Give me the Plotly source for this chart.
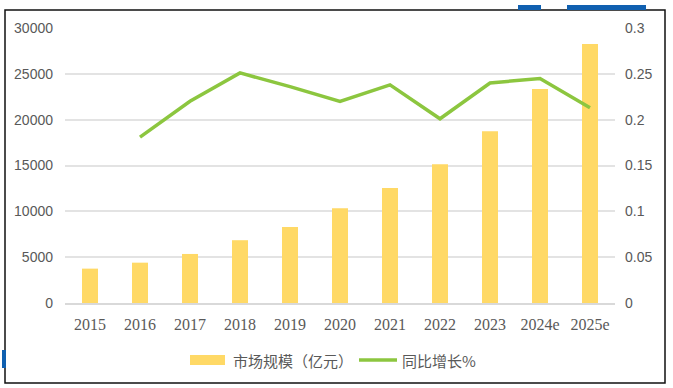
import plotly.graph_objects as go

years = ["2015", "2016", "2017", "2018", "2019", "2020", "2021", "2022", "2023", "2024e", "2025e"]
market_size = [3750, 4400, 5350, 6850, 8300, 10350, 12550, 15150, 18750, 23350, 28250]
growth = [None, 0.181, 0.220, 0.251, 0.236, 0.220, 0.238, 0.201, 0.240, 0.245, 0.213]
legend_labels = ["市场规模（亿元）", "同比增长%"]

W, H = 673, 388
L, R, T, B = 65, 615, 28, 303

def px(x):
    return (x - L) / (R - L)

def py(y):
    return (B - y) / (B - T)

BAR_COLOR = "#FFD966"
LINE_COLOR = "#8CC63F"
TXT = "#595959"
serif = "Liberation Serif, serif"
sans = "Liberation Sans, Arial, sans-serif"
cjk = "Noto Sans CJK SC, sans-serif"

fig = go.Figure()
fig.add_trace(go.Bar(x=years, y=market_size, name=legend_labels[0],
                     marker=dict(color=BAR_COLOR, line=dict(width=0)), yaxis="y",
                     showlegend=False))
fig.add_trace(go.Scatter(x=years, y=growth, name=legend_labels[1], mode="lines",
                         line=dict(color=LINE_COLOR, width=3.5), yaxis="y2",
                         showlegend=False))

shapes = [
    # outer border
    dict(type="rect", xref="paper", yref="paper", x0=px(5), x1=px(665), y0=py(383), y1=py(10),
         line=dict(color="#111", width=1.5), fillcolor="rgba(0,0,0,0)", layer="below"),
    # blue marks
    dict(type="rect", xref="paper", yref="paper", x0=px(518), x1=px(541), y0=py(10), y1=py(5),
         line=dict(width=0), fillcolor="#1060B0"),
    dict(type="rect", xref="paper", yref="paper", x0=px(567), x1=px(646), y0=py(10), y1=py(5),
         line=dict(width=0), fillcolor="#1060B0"),
    dict(type="rect", xref="paper", yref="paper", x0=px(2), x1=px(6), y0=py(368), y1=py(350),
         line=dict(width=0), fillcolor="#1060B0"),
    # legend swatches
    dict(type="rect", xref="paper", yref="paper", x0=px(190), x1=px(225), y0=py(365), y1=py(355),
         line=dict(width=0), fillcolor=BAR_COLOR),
    dict(type="line", xref="paper", yref="paper", x0=px(359), x1=px(397), y0=py(360), y1=py(360),
         line=dict(color=LINE_COLOR, width=3.5)),
]

annotations = [
    dict(text=legend_labels[0], xref="paper", yref="paper", x=px(231), y=py(360),
         xanchor="left", yanchor="middle", showarrow=False,
         font=dict(family=cjk, size=15, color=TXT)),
    dict(text=legend_labels[1], xref="paper", yref="paper", x=px(400), y=py(360),
         xanchor="left", yanchor="middle", showarrow=False,
         font=dict(family=cjk, size=15, color=TXT)),
]

fig.update_layout(
    width=W, height=H,
    margin=dict(l=L, r=W - R, t=T, b=H - B, pad=0, autoexpand=False),
    paper_bgcolor="white", plot_bgcolor="white",
    font=dict(family=sans, size=14, color=TXT),
    bargap=0.68,
    showlegend=False,
    hovermode=False,
    xaxis=dict(showgrid=False, showline=True, linecolor="#D9D9D9", linewidth=1.5,
               ticks="", tickfont=dict(family=serif, size=16, color=TXT), ticklabelstandoff=6),
    yaxis=dict(range=[0, 30000], dtick=5000, showgrid=True, gridcolor="#E3E3E3", gridwidth=1.5,
               zeroline=False, showline=False, ticks="", tickformat="d",
               tickfont=dict(family=sans, size=14, color=TXT), ticklabelstandoff=11),
    yaxis2=dict(range=[0, 0.3], dtick=0.05, overlaying="y", side="right", showgrid=False,
                zeroline=False, showline=False, ticks="", tickformat="~g",
                tickfont=dict(family=sans, size=14, color=TXT), ticklabelstandoff=9),
    shapes=shapes,
    annotations=annotations,
)

fig.write_html("out.html", config={"displayModeBar": False},
               post_script="document.body.style.margin='0';")
